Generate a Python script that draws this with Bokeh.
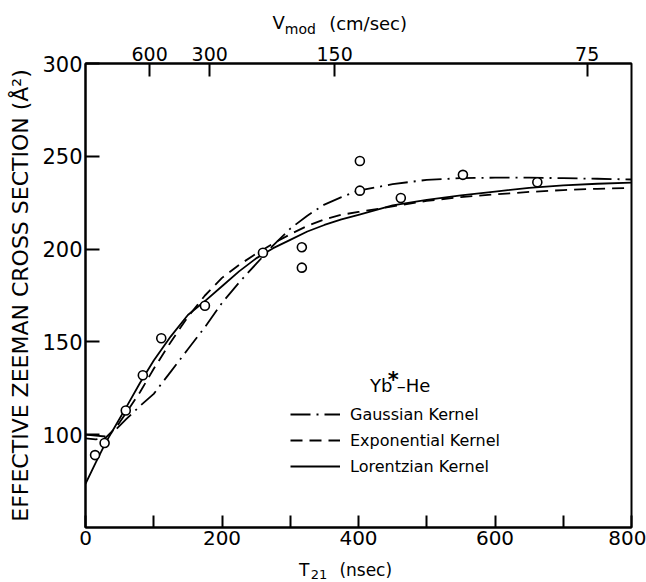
from bokeh.plotting import figure
from bokeh.layouts import column
from bokeh.models import Range1d, LinearAxis, FixedTicker, Label, Legend, LegendItem
from bokeh.core.properties import value
from bokeh.embed import file_html
from bokeh.resources import INLINE

# ---- data ----
t_obs = [14, 28, 59, 84, 111, 175, 260, 317, 317, 402, 402, 462, 553, 662]
q_obs = [89, 95.5, 113, 132, 152, 169.5, 198, 201, 190, 247.5, 231.5, 227.5, 240, 236]

t_curve = [0, 15, 30, 45, 60, 80, 100, 125, 150, 175, 200, 225, 250, 275, 300,
           325, 350, 375, 400, 450, 500, 550, 600, 650, 700, 750, 800]
q_gauss = [100, 99.5, 99, 103, 108.5, 115.5, 122, 134, 146, 158, 171, 182, 192, 202, 211,
           218, 224, 228, 231.5, 235, 237.3, 238.2, 238.5, 238.5, 238.2, 237.9, 237.5]
q_expo = [98, 97.5, 98.5, 104, 112, 123, 135.5, 150, 163.5, 175, 184.5, 191.5, 197.5, 203, 208,
          212.5, 216, 218.5, 220, 223, 226, 228, 229.5, 230.8, 231.8, 232.5, 233]
q_lor = [73.5, 85, 96, 105.5, 115, 128, 140, 153, 164.5, 172, 180, 188, 195, 200.5, 205,
         209.5, 213, 216, 218.5, 223.5, 226.5, 229, 231, 233, 234.3, 235.2, 235.8]

x_ticks = [0, 100, 200, 300, 400, 500, 600, 700, 800]
x_labels = ["0", "", "200", "", "400", "", "600", "", "800"]
y_ticks = [100, 150, 200, 250, 300]
v_tick_pos = [94, 182, 365, 735]
v_tick_labels = ["600", "300", "150", "75"]

FONT = "DejaVu Sans"

def strip(height):
    f = figure(width=646, height=height, x_range=Range1d(0, 800), y_range=Range1d(0, height),
               output_backend="svg", toolbar_location=None,
               x_axis_location=None, y_axis_location=None,
               min_border_left=85, min_border_right=15, min_border_top=0, min_border_bottom=0)
    f.grid.visible = False
    f.outline_line_color = None
    f.background_fill_color = "white"
    f.border_fill_color = "white"
    return f

def words(f, x, y, text, size):
    f.text(x=[x], y=[y], text=[text], text_font=value(FONT), text_font_size=size,
           text_baseline="alphabetic", text_color="black")

# ---- top strip: V_mod (cm/sec) ----
top_fig = strip(38)
words(top_fig, 274, 16, "V", "18px")
words(top_fig, 292, 10, "mod", "14px")
words(top_fig, 357, 15, "(cm/sec)", "18px")

# ---- bottom strip: T21 (nsec) ----
bot_fig = strip(28)
words(bot_fig, 313, 13, "T", "17px")
words(bot_fig, 330, 8, "21", "13px")
words(bot_fig, 372, 13, "(nsec)", "17px")

# ---- main chart ----
p = figure(width=646, height=516, x_range=Range1d(0, 800), y_range=Range1d(50, 300),
           output_backend="svg", toolbar_location=None,
           min_border_left=85, min_border_right=15, min_border_top=25, min_border_bottom=27)
p.grid.visible = False
p.outline_line_color = "black"
p.outline_line_width = 2
p.background_fill_color = "white"
p.border_fill_color = "white"

def style_axis(ax, tick_in, size):
    ax.axis_line_color = "black"
    ax.axis_line_width = 2
    ax.major_tick_in = tick_in
    ax.major_tick_out = 0
    ax.major_tick_line_width = 2
    ax.major_tick_line_color = "black"
    ax.minor_tick_line_color = None
    ax.major_label_text_font = FONT
    ax.major_label_text_font_size = size
    ax.major_label_text_color = "black"
    ax.axis_label_text_color = "black"

xa = p.xaxis[0]
xa.ticker = FixedTicker(ticks=x_ticks)
xa.major_label_overrides = {t: l for t, l in zip(x_ticks, x_labels)}
style_axis(xa, 12, "20px")
xa.major_label_standoff = 3

ya = p.yaxis[0]
ya.ticker = FixedTicker(ticks=y_ticks)
style_axis(ya, 14, "21px")
ya.major_label_standoff = 3
ya.axis_label = "EFFECTIVE ZEEMAN CROSS SECTION (Å²)"
ya.axis_label_text_font = FONT
ya.axis_label_text_font_size = "22px"
ya.axis_label_text_font_style = "normal"
ya.axis_label_standoff = 6

p.extra_x_ranges = {"v": Range1d(0, 800)}
top = LinearAxis(x_range_name="v", ticker=FixedTicker(ticks=v_tick_pos),
                 major_label_overrides={t: l for t, l in zip(v_tick_pos, v_tick_labels)})
style_axis(top, 13, "19px")
top.major_label_standoff = 3
p.add_layout(top, "above")

# curves
r_g = p.line(t_curve, q_gauss, line_color="black", line_width=1.8, line_dash="20 6 2 6")
r_e = p.line(t_curve, q_expo, line_color="black", line_width=1.8, line_dash="12 7")
r_l = p.line(t_curve, q_lor, line_color="black", line_width=1.8)
p.scatter(t_obs, q_obs, marker="circle", size=9, fill_color="white",
          line_color="black", line_width=1.6)

legend = Legend(items=[LegendItem(label="Gaussian Kernel", renderers=[r_g]),
                       LegendItem(label="Exponential Kernel", renderers=[r_e]),
                       LegendItem(label="Lorentzian Kernel", renderers=[r_l])],
                location=(205, 48), glyph_width=50, glyph_height=26, label_height=26,
                spacing=0, padding=0, margin=0, label_standoff=10,
                label_text_font=FONT, label_text_font_size="16px", label_text_color="black",
                border_line_alpha=0, background_fill_alpha=0)
p.add_layout(legend, "center")

def lab(x, y, text, size, **kw):
    p.add_layout(Label(x=x, y=y, text=text, text_font=FONT, text_font_size=size,
                       text_color="black", text_baseline="alphabetic", **kw))

# legend heading
lab(417, 126.5, "Yb", "18px")
lab(443, 129.5, "*", "21px", text_font_style="bold")
lab(456, 126.5, "–He", "18px")

layout = column(top_fig, p, bot_fig, spacing=0)
open("out.html", "w").write(file_html(layout, INLINE))
